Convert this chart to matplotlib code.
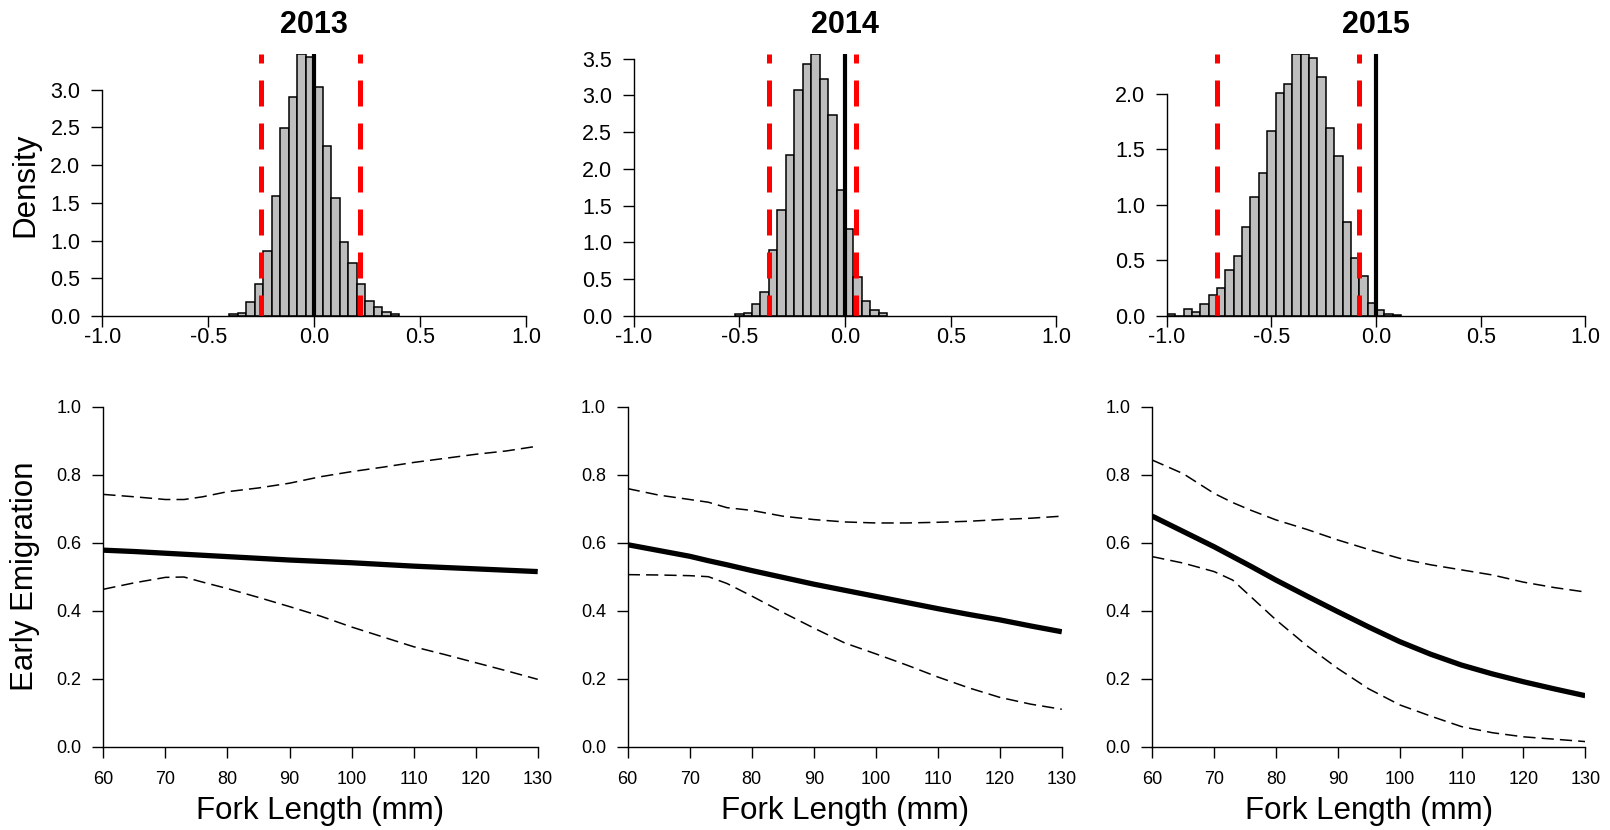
import numpy as np
import matplotlib.pyplot as plt

plt.rcParams['font.family'] = ['Liberation Sans', 'DejaVu Sans']
plt.rcParams['axes.unicode_minus'] = False

years = ["2013", "2014", "2015"]

# histogram bins (width 0.04), first left edge and densities per year
bin_width = 0.04
bin_start = [-0.40, -0.52, -1.00]
dens_2013 = [0.02, 0.044, 0.18, 0.42, 0.86, 1.59, 2.49, 2.90, 3.47, 3.44,
             3.04, 2.26, 1.56, 0.98, 0.70, 0.43, 0.20, 0.12, 0.058, 0.03]
dens_2014 = [0.023, 0.045, 0.163, 0.33, 0.90, 1.44, 2.19, 3.07, 3.43, 3.56,
             3.22, 2.73, 1.72, 1.18, 0.53, 0.20, 0.08, 0.045]
dens_2015 = [0.015, 0.0, 0.06, 0.04, 0.11, 0.19, 0.255, 0.41, 0.54, 0.80,
             1.07, 1.29, 1.67, 2.01, 2.09, 2.357, 2.357, 2.32, 2.15, 1.69,
             1.44, 0.85, 0.52, 0.36, 0.12, 0.05, 0.02, 0.01]
densities = [dens_2013, dens_2014, dens_2015]
ci_low = [-0.251, -0.358, -0.758]
ci_high = [0.217, 0.052, -0.080]
dens_top_tick = [3.0, 3.5, 2.0]

# predicted early emigration vs fork length
fork = [60, 65, 70, 73, 76, 80, 85, 90, 95, 100, 105, 110, 115, 120, 125, 130]
mean_2013 = [0.578, 0.574, 0.569, 0.566, 0.563, 0.559, 0.554, 0.549, 0.545,
             0.541, 0.536, 0.531, 0.527, 0.523, 0.519, 0.515]
upper_2013 = [0.742, 0.735, 0.727, 0.727, 0.735, 0.750, 0.761, 0.775, 0.794,
              0.809, 0.822, 0.836, 0.848, 0.860, 0.870, 0.884]
lower_2013 = [0.463, 0.482, 0.498, 0.499, 0.484, 0.465, 0.439, 0.412, 0.384,
              0.352, 0.323, 0.294, 0.271, 0.247, 0.223, 0.198]
mean_2014 = [0.594, 0.577, 0.560, 0.547, 0.535, 0.518, 0.498, 0.478, 0.460,
             0.442, 0.424, 0.406, 0.389, 0.373, 0.355, 0.338]
upper_2014 = [0.759, 0.740, 0.727, 0.719, 0.703, 0.695, 0.678, 0.668, 0.661,
              0.658, 0.658, 0.660, 0.663, 0.668, 0.672, 0.678]
lower_2014 = [0.506, 0.505, 0.503, 0.500, 0.480, 0.443, 0.395, 0.349, 0.305,
              0.273, 0.240, 0.205, 0.173, 0.145, 0.125, 0.110]
mean_2015 = [0.678, 0.633, 0.588, 0.559, 0.530, 0.490, 0.443, 0.397, 0.352,
             0.309, 0.272, 0.240, 0.214, 0.191, 0.170, 0.150]
upper_2015 = [0.843, 0.803, 0.745, 0.718, 0.695, 0.667, 0.639, 0.608, 0.580,
              0.554, 0.535, 0.520, 0.505, 0.484, 0.468, 0.455]
lower_2015 = [0.559, 0.540, 0.515, 0.490, 0.440, 0.373, 0.297, 0.230, 0.170,
              0.123, 0.090, 0.059, 0.041, 0.029, 0.022, 0.015]
means = [mean_2013, mean_2014, mean_2015]
uppers = [upper_2013, upper_2014, upper_2015]
lowers = [lower_2013, lower_2014, lower_2015]

fig = plt.figure(figsize=(16.1, 8.3), dpi=100)

top_pos = [[0.0635, 0.6193, 0.2634, 0.3153],
           [0.3936, 0.6193, 0.2625, 0.3153],
           [0.7247, 0.6193, 0.2600, 0.3153]]
bot_pos = [[0.0642, 0.1004, 0.2698, 0.4096],
           [0.3899, 0.1004, 0.2696, 0.4096],
           [0.7157, 0.1004, 0.2689, 0.4096]]


def style_axes(ax, labelsize, xpad, ypad):
    for s in ['top', 'right']:
        ax.spines[s].set_visible(False)
    for s in ['left', 'bottom']:
        ax.spines[s].set_linewidth(1.0)
    ax.tick_params(direction='out', length=7.7, width=1.0, labelsize=labelsize)
    ax.tick_params(axis='x', pad=xpad)
    ax.tick_params(axis='y', pad=ypad)


for i in range(3):
    # top row: histograms
    ax = fig.add_axes(top_pos[i])
    dens = densities[i]
    lefts = bin_start[i] + bin_width * np.arange(len(dens))
    ax.bar(lefts, dens, width=bin_width, align='edge', color='#BEBEBE',
           edgecolor='black', linewidth=1.1)
    ax.axvline(0, color='black', linewidth=3.0)
    for q in (ci_low[i], ci_high[i]):
        ax.axvline(q, color='red', linewidth=3.6, linestyle=(1, (5.2, 3.4)))
    ax.set_xlim(-1, 1)
    ax.set_ylim(0, max(dens))
    ax.set_xticks([-1.0, -0.5, 0.0, 0.5, 1.0])
    ax.set_xticklabels(["%.1f" % v for v in [-1.0, -0.5, 0.0, 0.5, 1.0]])
    yt = np.arange(0, dens_top_tick[i] + 0.01, 0.5)
    ax.set_yticks(yt)
    ax.set_yticklabels(["%.1f" % v for v in yt])
    ax.spines['left'].set_bounds(0, dens_top_tick[i])
    style_axes(ax, 15.5, 0, 8)
    ax.set_title(years[i], fontsize=22, fontweight='bold', pad=15)
    if i == 0:
        ax.set_ylabel("Density", fontsize=22.5)
        ax.yaxis.set_label_coords(-0.147, 0.5)

    # bottom row: fitted probability with confidence band
    ax = fig.add_axes(bot_pos[i])
    ax.plot(fork, uppers[i], color='black', linewidth=1.1,
            linestyle=(0, (8, 4)))
    ax.plot(fork, lowers[i], color='black', linewidth=1.1,
            linestyle=(0, (8, 4)))
    ax.plot(fork, means[i], color='black', linewidth=3.8,
            solid_capstyle='butt')
    ax.set_xlim(60, 130)
    ax.set_ylim(0, 1)
    ax.set_xticks(range(60, 131, 10))
    yt = [0.0, 0.2, 0.4, 0.6, 0.8, 1.0]
    ax.set_yticks(yt)
    ax.set_yticklabels(["%.1f" % v for v in yt])
    style_axes(ax, 13, 10, 8)
    ax.set_xlabel("Fork Length (mm)", fontsize=22.5)
    ax.xaxis.set_label_coords(0.5, -0.145)
    if i == 0:
        ax.set_ylabel("Early Emigration", fontsize=22.5)
        ax.yaxis.set_label_coords(-0.146, 0.5)

fig.savefig("out.png", dpi=100)
